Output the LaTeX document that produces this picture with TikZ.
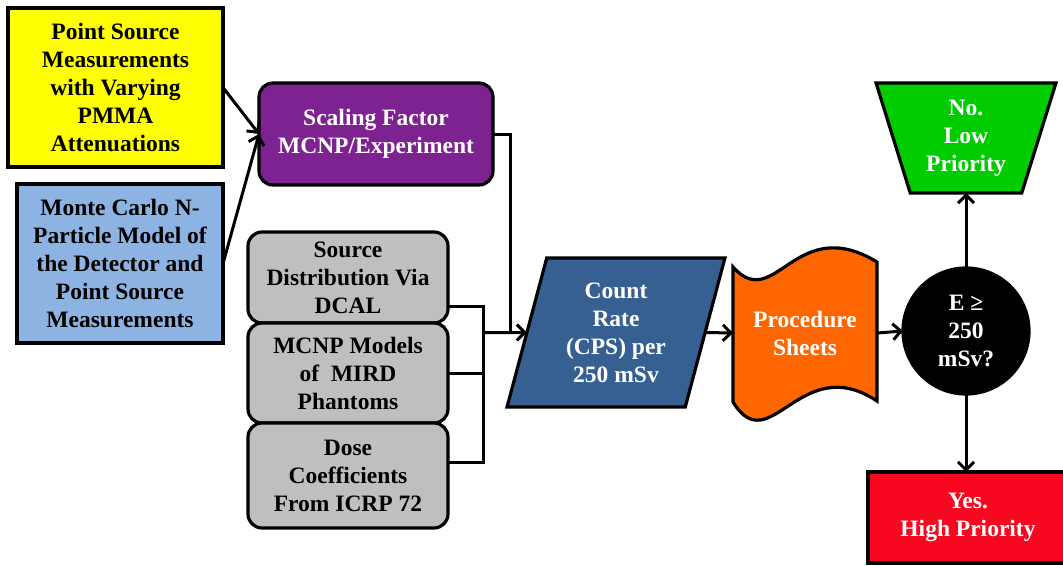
\documentclass[tikz,border=0pt]{standalone}
\usepackage{fontspec}
\setmainfont{Liberation Serif}
\usetikzlibrary{shapes.geometric,arrows.meta}
\definecolor{cyel}{HTML}{FFFF00}
\definecolor{cblue}{HTML}{8DB3E2}
\definecolor{cpurp}{HTML}{7E2191}
\definecolor{cgray}{HTML}{BFBFBF}
\definecolor{csteel}{HTML}{376092}
\definecolor{corange}{HTML}{FF6600}
\definecolor{cgreen}{HTML}{00CC00}
\definecolor{cred}{HTML}{F80820}
\begin{document}
\begin{tikzpicture}[x=1pt,y=-1pt,
  box/.style={draw=black,line width=3.2pt,align=center,inner sep=0pt,outer sep=0pt,
    font=\bfseries\fontsize{23.5}{28}\selectfont},
  rbox/.style={box,rounded corners=14pt},
  conn/.style={line width=3pt},
  arr/.style={conn,-{Straight Barb[length=8pt,width=16pt]}}]
\useasboundingbox (0,0) rectangle (1063,565);

\node[box,fill=cyel,minimum width=215pt,minimum height=159pt] (ps) at (115.5,87.5)
  {Point Source\\Measurements\\with Varying\\PMMA\\Attenuations};
\node[box,fill=cblue,minimum width=206pt,minimum height=159pt] (mc) at (120,263.5)
  {Monte Carlo N-\\Particle Model of\\the Detector and\\Point Source\\Measurements};
\node[rbox,fill=cpurp,text=white,minimum width=234pt,minimum height=102pt] (sf) at (376,134)
  {Scaling Factor\\MCNP/Experiment};
\node[rbox,fill=cgray,minimum width=200pt,minimum height=91pt] (g1) at (348,277.5)
  {Source\\Distribution Via\\DCAL};
\node[rbox,fill=cgray,minimum width=200pt,minimum height=100pt] (g2) at (348,373)
  {MCNP Models\\of~~MIRD\\Phantoms};
\node[rbox,fill=cgray,minimum width=200pt,minimum height=105pt] (g3) at (348,475.5)
  {Dose\\Coefficients\\From ICRP 72};

\node[box,shape=trapezium,trapezium left angle=74,trapezium right angle=106,
  trapezium stretches=true,fill=csteel,text=white,minimum width=218pt,minimum height=149pt]
  (cps) at (616,332.5) {Count\\Rate\\(CPS) per\\250 mSv};

\draw[line width=3.2pt,fill=corange] (733,267) .. controls (775,314) and (795,212) .. (877,262)
  -- (877,401) .. controls (800,350) and (770,462) .. (733,402) -- cycle;
\node[box,draw=none,text=white,minimum width=144pt,minimum height=135pt] (proc) at (805,333)
  {Procedure\\Sheets};

\node[box,circle,fill=black,text=white,minimum size=126pt] (dec) at (966,331)
  {E ≥\\250\\mSv?};
\node[box,shape=trapezium,trapezium left angle=107.7,trapezium right angle=107.7,
  trapezium stretches=true,fill=cgreen,text=white,minimum width=180pt,minimum height=110pt]
  (no) at (966,138) {No.\\Low\\Priority};
\node[box,fill=cred,text=white,minimum width=200pt,minimum height=91pt] (yes) at (968,517.5)
  {Yes.\\High Priority};

\coordinate (bus) at (483,332.5);
\coordinate (j) at (510,332.5);
\draw[arr] (ps.east) -- (sf.west);
\draw[arr] (mc.east) -- (sf.west);
\draw[conn] ([yshift=-29pt]g1.east) -| (bus);
\draw[conn] (g2.east) -- (g2.east -| bus);
\draw[conn] ([yshift=13pt]g3.east) -| (bus);
\draw[conn] (sf.east) -| (j);
\draw[arr] (bus) -- (cps.west);
\draw[arr] (cps.east) -- (proc.west);
\draw[arr] (proc.east) -- (dec.west);
\draw[arr] (dec.north) -- (dec.north |- no.south);
\draw[arr] (dec.south) -- (dec.south |- yes.north);
\end{tikzpicture}
\end{document}
